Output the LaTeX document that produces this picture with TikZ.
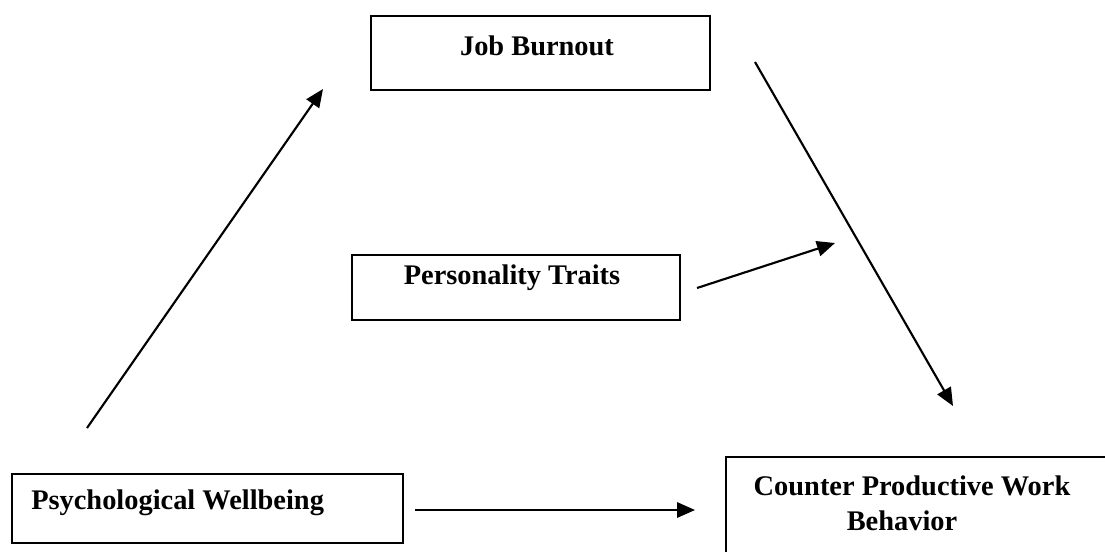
\documentclass[tikz,border=0pt]{standalone}
\usepackage{fontspec}
\setmainfont{Liberation Serif}
\usetikzlibrary{arrows.meta}
\begin{document}
\begin{tikzpicture}[x=0.75pt,y=-0.75pt,
  box/.style={draw,line width=1.5pt,inner sep=0pt,anchor=north west},
  lbl/.style={font=\bfseries\fontsize{21.3}{26.25}\selectfont,inner sep=0pt},
  arr/.style={line width=1.6pt,-{Triangle[length=13.5pt,width=11.5pt]}}]
\useasboundingbox (0,0) rectangle (1105,551);
\clip (0,0) rectangle (1105,551);
% boxes
\node[box,minimum width=254.25pt,minimum height=55.5pt] (jb) at (370,15) {};
\node[box,minimum width=246pt,minimum height=48.75pt] (pt) at (351,254) {};
\node[box,minimum width=293.25pt,minimum height=51.75pt] (pw) at (11,473) {};
\node[box,minimum width=300pt,minimum height=90pt] (cw) at (725,456) {};
% labels
\node[lbl,anchor=base] (jbt) at (537,55) {Job Burnout};
\node[lbl,anchor=base] (ptt) at (512,284) {Personality Traits};
\node[lbl,anchor=base west] (pwt) at (31,509) {Psychological Wellbeing};
\node[lbl,anchor=base,align=center] (cwt) at (912,530) {Counter Productive Work\\Behavior\hspace*{15pt}};
% connector ends
\coordinate (a1) at (87,428);
\coordinate (a2) at (323,89);
\coordinate (b1) at (755,62);
\coordinate (b2) at (953,406);
\coordinate (c1) at (697,288);
\coordinate (c2) at (835,243);
\coordinate (d1) at (415,510);
\coordinate (d2) at (695,510);
\draw[arr] (a1) -- (a2);
\draw[arr] (b1) -- (b2);
\draw[arr] (c1) -- (c2);
\draw[arr] (d1) -- (d2);
\end{tikzpicture}
\end{document}
